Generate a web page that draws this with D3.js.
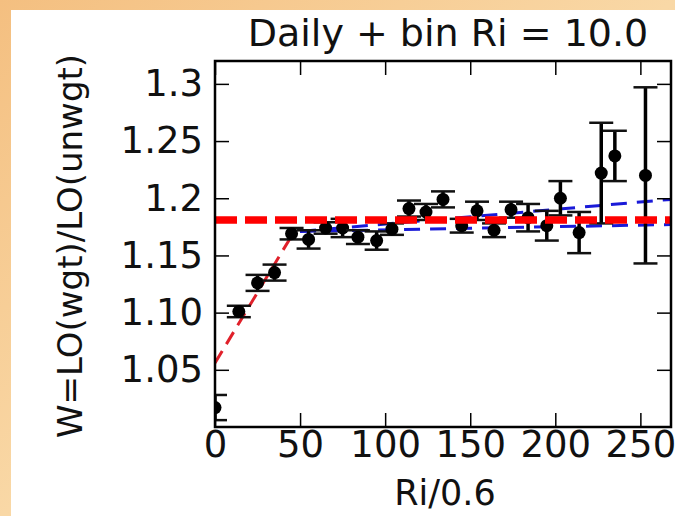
<!DOCTYPE html>
<html>
<head>
<meta charset="utf-8">
<script src="https://cdn.jsdelivr.net/npm/d3@7"></script>
<style>
  body { margin: 0; background: #fff; }
  svg { display: block; }
  text { font-family: "DejaVu Sans", sans-serif; fill: #111; }
</style>
</head>
<body>
<div id="chart"></div>
<script>
/* canvas size */
var width = 675,
    height = 516;

/* plot area inside the canvas */
var margin = { top: 61, right: 4, bottom: 89, left: 215 },
    w = width - margin.left - margin.right,
    h = height - margin.top - margin.bottom;

/* binned points: Ri/0.6, ratio W and its error */
var riBins = [0, 14, 25, 35, 45, 55, 65, 75, 84, 95, 104, 114, 124, 134, 145, 154, 164, 174, 184, 195, 203, 214, 227, 235, 253];
var wRatio = [1.017, 1.101, 1.126, 1.135, 1.169, 1.164, 1.174, 1.174, 1.166, 1.163, 1.173, 1.191, 1.188, 1.199, 1.176, 1.189, 1.172, 1.190, 1.183, 1.176, 1.200, 1.170, 1.222, 1.237, 1.220];
var wErr = [0.011, 0.005, 0.007, 0.007, 0.005, 0.008, 0.005, 0.008, 0.006, 0.008, 0.005, 0.007, 0.007, 0.007, 0.006, 0.008, 0.006, 0.007, 0.012, 0.013, 0.015, 0.018, 0.044, 0.022, 0.077];

/* fitted lines */
var riseFit = [[0, 1.056], [47, 1.172]];
var plateauUpper = [[50, 1.171], [268, 1.199]];
var plateauLower = [[50, 1.171], [268, 1.177]];
var plateauLevel = 1.181;

/* ticks */
var xTicks = [0, 50, 100, 150, 200, 250];
var yTicks = [1.05, 1.10, 1.15, 1.2, 1.25, 1.3];
var yTickLabels = ["1.05", "1.10", "1.15", "1.2", "1.25", "1.3"];

var svg = d3.select("#chart")
    .append("svg")
    .attr("width", width)
    .attr("height", height);

/* peach backdrop with the white figure on top */
var grad = svg.append("defs").append("linearGradient")
    .attr("id", "bg")
    .attr("x1", 0).attr("y1", 0).attr("x2", 1).attr("y2", 1);
grad.append("stop").attr("offset", "0%").attr("stop-color", "#f4bf80");
grad.append("stop").attr("offset", "50%").attr("stop-color", "#f9d8a6");
grad.append("stop").attr("offset", "100%").attr("stop-color", "#f7cf98");

svg.append("rect")
    .attr("width", width)
    .attr("height", height)
    .attr("fill", "url(#bg)");

svg.append("rect")
    .attr("x", 11)
    .attr("y", 10)
    .attr("width", width - 11)
    .attr("height", height - 10)
    .attr("fill", "#fff");

svg.select("defs").append("clipPath")
    .attr("id", "clip")
    .append("rect")
    .attr("width", w)
    .attr("height", h);

var g = svg.append("g")
    .attr("transform", "translate(" + margin.left + "," + margin.top + ")");

/* scales */
var x = d3.scaleLinear().domain([0, 268]).range([0, w]);
var y = d3.scaleLinear().domain([1.0, 1.32]).range([h, 0]);

var line = d3.line()
    .x(function (d) { return x(d[0]); })
    .y(function (d) { return y(d[1]); });

var plot = g.append("g").attr("clip-path", "url(#clip)");

/* red dashed rise fit */
plot.append("path")
    .attr("d", line(riseFit))
    .attr("fill", "none")
    .attr("stroke", "#e0202a")
    .attr("stroke-width", 3)
    .attr("stroke-dasharray", "14,8");

/* blue dashed plateau fits */
[plateauUpper, plateauLower].forEach(function (pts) {
    plot.append("path")
        .attr("d", line(pts))
        .attr("fill", "none")
        .attr("stroke", "#1a1ad8")
        .attr("stroke-width", 3)
        .attr("stroke-dasharray", "16,10");
});

/* error bars */
var bars = plot.selectAll(".bar")
    .data(riBins)
    .enter().append("g")
    .attr("class", "bar");

bars.append("line")
    .attr("x1", function (d) { return x(d); })
    .attr("x2", function (d) { return x(d); })
    .attr("y1", function (d, i) { return y(wRatio[i] - wErr[i]); })
    .attr("y2", function (d, i) { return y(wRatio[i] + wErr[i]); })
    .attr("stroke", "#000")
    .attr("stroke-width", 3.5);

[-1, 1].forEach(function (s) {
    bars.append("line")
        .attr("x1", function (d) { return x(d) - 12; })
        .attr("x2", function (d) { return x(d) + 12; })
        .attr("y1", function (d, i) { return y(wRatio[i] + s * wErr[i]); })
        .attr("y2", function (d, i) { return y(wRatio[i] + s * wErr[i]); })
        .attr("stroke", "#111")
        .attr("stroke-width", 2.5);
});

bars.append("circle")
    .attr("cx", function (d) { return x(d); })
    .attr("cy", function (d, i) { return y(wRatio[i]); })
    .attr("r", 6.5)
    .attr("fill", "#000");

/* thick red dashed mean level */
plot.append("line")
    .attr("x1", 0)
    .attr("x2", w)
    .attr("y1", y(plateauLevel))
    .attr("y2", y(plateauLevel))
    .attr("stroke", "#ff0000")
    .attr("stroke-width", 7.5)
    .attr("stroke-dasharray", "22,8");

/* axes, ticks pointing in */
var xAxis = d3.axisBottom(x).tickValues(xTicks).tickSize(-14).tickPadding(4);
var yAxis = d3.axisLeft(y).tickValues(yTicks).tickSize(-14).tickPadding(12)
    .tickFormat(function (d, i) { return yTickLabels[i]; });

g.append("g")
    .attr("class", "axis")
    .attr("transform", "translate(0," + h + ")")
    .call(xAxis);

g.append("g")
    .attr("class", "axis")
    .call(yAxis);

g.append("g")
    .attr("class", "axis")
    .call(d3.axisTop(x).tickValues(xTicks).tickSize(-14).tickFormat(""));

g.append("g")
    .attr("class", "axis")
    .attr("transform", "translate(" + w + ",0)")
    .call(d3.axisRight(y).tickValues(yTicks).tickSize(-14).tickFormat(""));

g.selectAll(".axis .domain").remove();
g.selectAll(".axis line").attr("stroke", "#000").attr("stroke-width", 1.5);
g.selectAll(".axis text")
    .style("font-family", "'DejaVu Sans', sans-serif")
    .style("font-size", "37px")
    .attr("fill", "#111");

/* frame */
g.append("rect")
    .attr("width", w)
    .attr("height", h)
    .attr("fill", "none")
    .attr("stroke", "#000")
    .attr("stroke-width", 2.5);

/* title and labels */
svg.append("text")
    .attr("x", margin.left + w / 2 + 5)
    .attr("y", 46)
    .attr("text-anchor", "middle")
    .style("font-size", "38px")
    .text("Daily + bin Ri = 10.0");

svg.append("text")
    .attr("x", 445)
    .attr("y", 505)
    .attr("text-anchor", "middle")
    .style("font-size", "35px")
    .text("Ri/0.6");

svg.append("text")
    .attr("transform", "translate(82,246) rotate(-90)")
    .attr("text-anchor", "middle")
    .style("font-size", "34px")
    .text("W=LO(wgt)/LO(unwgt)");
</script>
</body>
</html>
